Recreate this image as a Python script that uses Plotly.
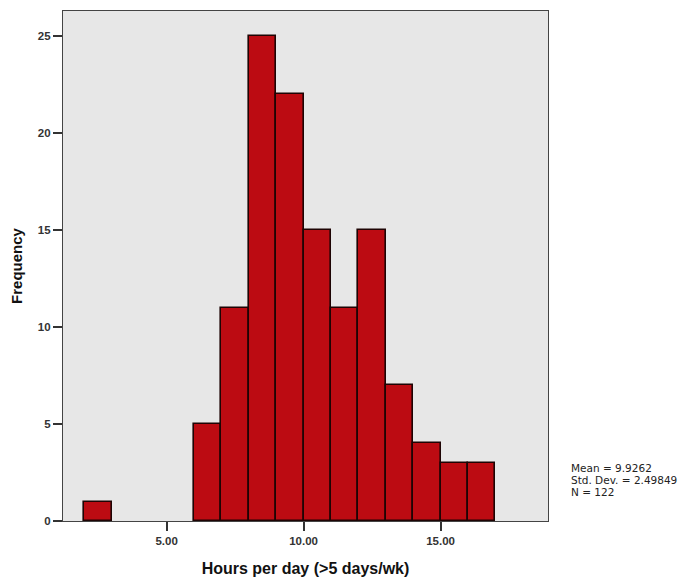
import plotly.graph_objects as go

# Histogram data: bin starts (hours) and frequencies, bin width 1
bin_starts = [2, 6, 7, 8, 9, 10, 11, 12, 13, 14, 15, 16]
counts = [1, 5, 11, 25, 22, 15, 11, 15, 7, 4, 3, 3]
bin_width = 1.0
x_ticks = [5, 10, 15]
x_tick_labels = ["5.00", "10.00", "15.00"]
y_ticks = [0, 5, 10, 15, 20, 25]
stats_text = ["Mean = 9.9262", "Std. Dev. = 2.49849", "N = 122"]

centers = [s + bin_width / 2 for s in bin_starts]

fig = go.Figure()
fig.add_trace(go.Bar(
    x=centers, y=counts, width=[bin_width] * len(counts),
    marker=dict(color="#bc0b12", line=dict(color="#1e0404", width=1.6)),
    showlegend=False, hoverinfo="x+y",
))

font_family = "Liberation Sans, Arial, sans-serif"

stat_y = [0.104, 0.080, 0.056]
annotations = [
    dict(xref="paper", yref="paper", x=1.044, y=yy,
         xanchor="left", yanchor="middle", align="left",
         text=t, showarrow=False,
         font=dict(family="DejaVu Sans, sans-serif", size=10.5, color="#222222"))
    for t, yy in zip(stats_text, stat_y)
]

fig.update_layout(
    width=685, height=579,
    margin=dict(l=63, r=137, t=11, b=58, autoexpand=False),
    paper_bgcolor="white",
    plot_bgcolor="#e7e7e7",
    bargap=0,
    font=dict(family=font_family, color="#222222"),
    xaxis=dict(
        range=[1.22, 18.92],
        tickvals=x_ticks, ticktext=x_tick_labels,
        ticks="outside", ticklen=9, tickwidth=1.5, tickcolor="#333333",
        tickfont=dict(size=11.5, weight="bold", color="#333333"),
        showgrid=False, zeroline=False,
        showline=True, linecolor="#444444", linewidth=1.3, mirror=True,
        title=dict(text="Hours per day (>5 days/wk)",
                   font=dict(size=16, weight="bold", color="#111111"),
                   standoff=16),
    ),
    yaxis=dict(
        range=[0, 26.3],
        tickvals=y_ticks,
        ticks="outside", ticklen=9, tickwidth=1.5, tickcolor="#333333",
        tickfont=dict(size=11.5, weight="bold", color="#333333"),
        showgrid=False, zeroline=False,
        showline=True, linecolor="#444444", linewidth=1.3, mirror=True,
        title=dict(text="Frequency",
                   font=dict(size=15, weight="bold", color="#111111"),
                   standoff=11),
    ),
    annotations=annotations,
)

fig.write_html("out.html")
